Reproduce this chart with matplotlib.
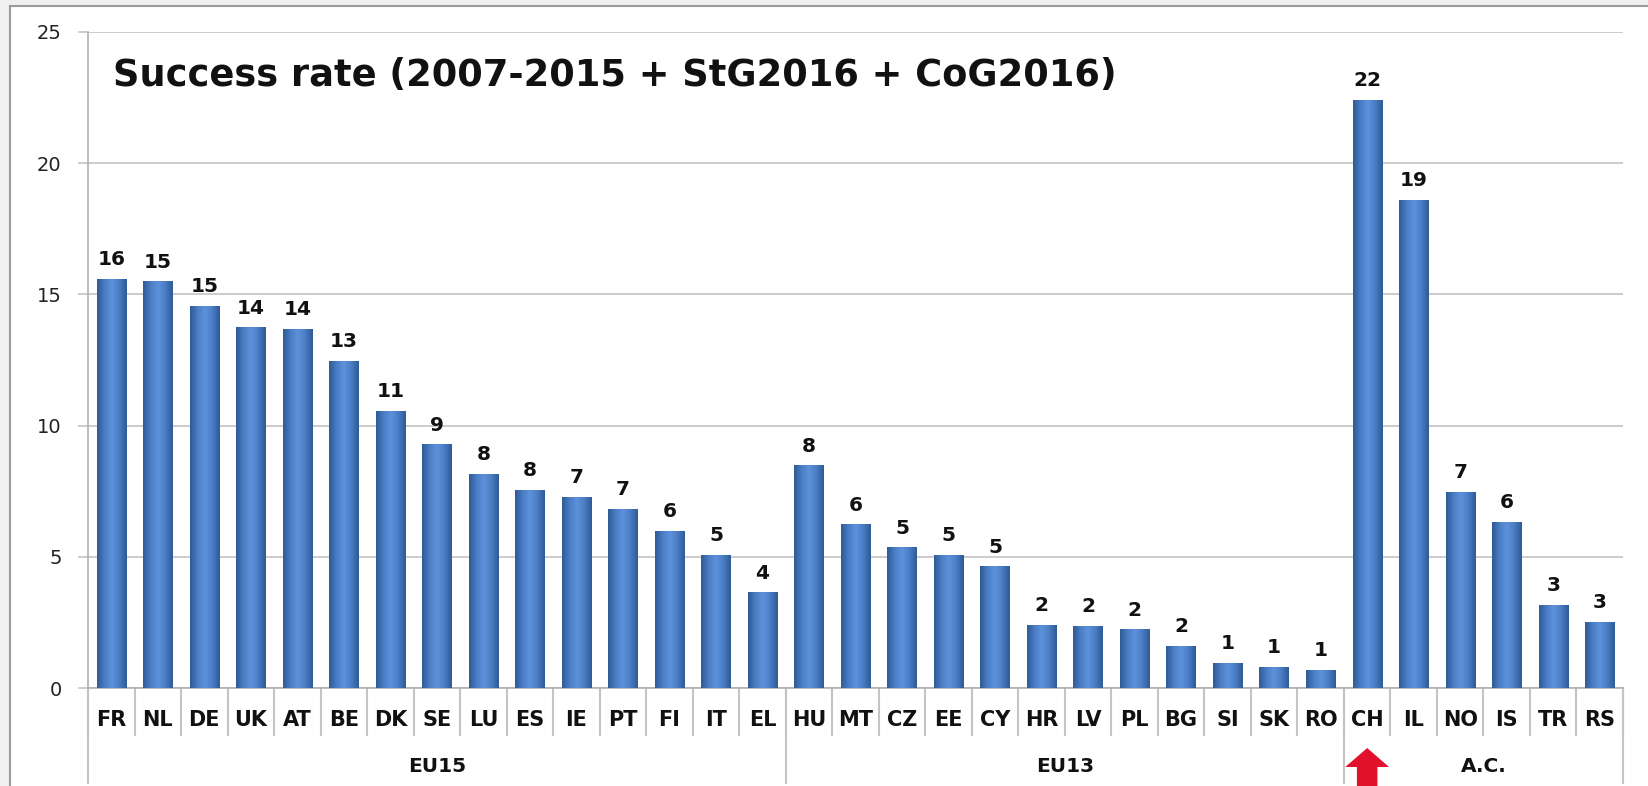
import numpy as np
import matplotlib.pyplot as plt
import matplotlib.transforms as mtransforms
from matplotlib.colors import LinearSegmentedColormap
from matplotlib.patches import Rectangle, Polygon

# data
countries = ["FR", "NL", "DE", "UK", "AT", "BE", "DK", "SE", "LU", "ES", "IE", "PT", "FI", "IT", "EL",
             "HU", "MT", "CZ", "EE", "CY", "HR", "LV", "PL", "BG", "SI", "SK", "RO",
             "CH", "IL", "NO", "IS", "TR", "RS"]
rates = [15.6, 15.5, 14.56, 13.74, 13.68, 12.48, 10.56, 9.28, 8.16, 7.56, 7.28, 6.84, 6.0, 5.08, 3.64,
         8.48, 6.24, 5.36, 5.08, 4.64, 2.4, 2.36, 2.24, 1.6, 0.96, 0.8, 0.68,
         22.42, 18.6, 7.48, 6.34, 3.16, 2.52]
value_labels = ["16", "15", "15", "14", "14", "13", "11", "9", "8", "8", "7", "7", "6", "5", "4",
                "8", "6", "5", "5", "5", "2", "2", "2", "2", "1", "1", "1",
                "22", "19", "7", "6", "3", "3"]
groups = ["EU15", "EU13", "A.C."]
group_sizes = [15, 12, 6]
highlight = "CH"

plt.rcParams['font.family'] = ['DejaVu Sans']

W, H = 1648, 786
fig = plt.figure(figsize=(W / 100, H / 100), dpi=100)

# grey frame around the slide
fig.patches.append(Rectangle((0, 0), 1, 1, transform=fig.transFigure, facecolor='#f0f0f0',
                             edgecolor='none', zorder=-10))
fig.patches.append(Rectangle((10 / W, -0.05), 1.1, (H - 6) / H + 0.05, transform=fig.transFigure,
                             facecolor='white', edgecolor='#9a9a9a', linewidth=1.5, zorder=-9))

ax = fig.add_axes([88 / W, 98 / H, 1535 / W, 656 / H])
ax.patch.set_alpha(0)

x = np.arange(len(countries))
bars = ax.bar(x, rates, width=0.63, color='#4f81bd', zorder=2)

# cylinder-like shading on the bars
cmap = LinearSegmentedColormap.from_list('bar', ['#2f5b95', '#4a7dc4', '#5d92dc', '#4a7dc4', '#2f5b95'])
grad = np.linspace(0, 1, 64).reshape(1, -1)
for b in bars:
    x0, w, h = b.get_x(), b.get_width(), b.get_height()
    im = ax.imshow(grad, extent=[x0, x0 + w, 0, h], aspect='auto', cmap=cmap, zorder=3,
                   interpolation='bicubic')
    im.set_clip_path(b)

for xi, r, lab in zip(x, rates, value_labels):
    ax.annotate(lab, (xi, r), xytext=(0, 7), textcoords='offset points', ha='center', va='bottom',
                fontsize=14.5, fontweight='bold', color='#111111')

ax.set_xlim(-0.5, len(countries) - 0.5)
ax.set_ylim(0, 25)
ax.set_yticks(range(0, 26, 5))
ax.yaxis.grid(True, color='#c4c4c4', linewidth=1.2)
ax.set_axisbelow(True)
ax.set_xticks([])
ax.tick_params(axis='y', length=7, width=1.2, color='#c4c4c4', labelsize=14, pad=12, labelcolor='#222222')
for s in ['top', 'right']:
    ax.spines[s].set_visible(False)
ax.spines['left'].set_color('#b0b0b0')
ax.spines['left'].set_linewidth(1.2)
ax.spines['bottom'].set_color('#b0b0b0')
ax.spines['bottom'].set_linewidth(1.2)

ax.text(0.016, 0.933, "Success rate (2007-2015 + StG2016 + CoG2016)", transform=ax.transAxes,
        fontsize=26.5, fontweight='bold', va='center', ha='left', color='#111111')

# category axis drawn as boxes with group rows
trans = mtransforms.blended_transform_factory(ax.transData, ax.transAxes)
for xi, c in zip(x, countries):
    ax.text(xi, -0.049, c, transform=trans, ha='center', va='center', fontsize=15,
            fontweight='bold', color='#111111')
for b in np.arange(len(countries) + 1) - 0.5:
    ax.plot([b, b], [0, -0.072], transform=trans, color='#c4c4c4', linewidth=1.5, clip_on=False)

edges = np.concatenate([[0], np.cumsum(group_sizes)]) - 0.5
for e in edges:
    ax.plot([e, e], [0, -0.145], transform=trans, color='#c4c4c4', linewidth=1.5, clip_on=False)
for g, a, b in zip(groups, edges[:-1], edges[1:]):
    ax.text((a + b) / 2, -0.12, g, transform=trans, ha='center', va='center', fontsize=14.5,
            fontweight='bold', color='#111111')

# red arrow under the highlighted country
ci = countries.index(highlight)
hw, sw = 0.47, 0.22
arrow = Polygon([[ci, -0.0915], [ci + hw, -0.1204], [ci + sw, -0.1204], [ci + sw, -0.16],
                 [ci - sw, -0.16], [ci - sw, -0.1204], [ci - hw, -0.1204]], closed=True,
                transform=trans, facecolor='#e3102c', edgecolor='none', clip_on=False, zorder=5)
ax.add_patch(arrow)

fig.savefig('out.png', dpi=100)
